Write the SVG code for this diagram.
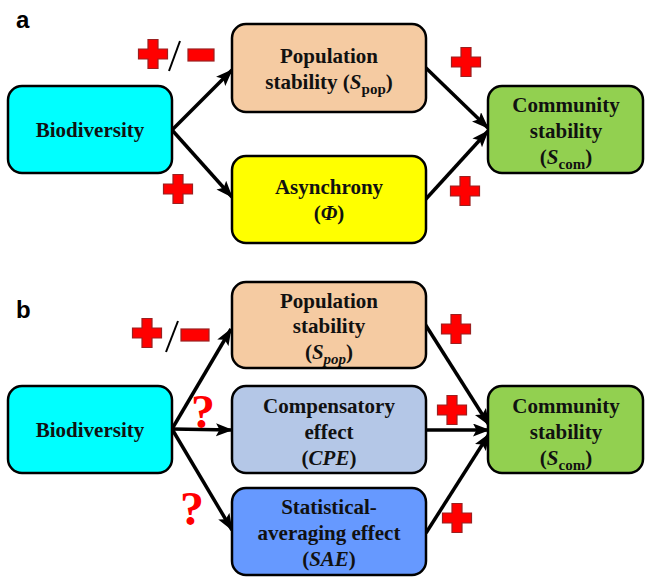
<svg xmlns="http://www.w3.org/2000/svg" width="645" height="577" viewBox="0 0 645 577">
<style>
.box{stroke:#000;stroke-width:2.5}
.t{font-family:"Liberation Serif","Times New Roman",serif;font-weight:bold;font-size:21px;fill:#111;text-anchor:middle}
.sub{font-size:15px}
.lbl{font-family:"Liberation Sans",Arial,sans-serif;font-weight:bold;font-size:24px;fill:#000}
.q{font-family:"Liberation Serif","Times New Roman",serif;font-weight:bold;font-size:48px;fill:#FF0000;text-anchor:middle}
.edge{stroke:#000;stroke-width:3.5;fill:none;marker-end:url(#ah)}
.sl{stroke:#000;stroke-width:2;fill:none}
.red{fill:#FF0000;stroke:#9B2020;stroke-width:1.2}
</style>
<defs>
<marker id="ah" markerUnits="userSpaceOnUse" markerWidth="18" markerHeight="14" refX="16" refY="6.5" orient="auto">
<path d="M0,0 L17,6.5 L0,13 L3.5,6.5 z" fill="#000"/>
</marker>
<path id="plus" class="red" d="M-5,-14.5 h10 v9.5 h9.5 v10 h-9.5 v9.5 h-10 v-9.5 h-9.5 v-10 h9.5 z"/>
</defs>

<text class="lbl" x="16" y="28">a</text>
<text class="lbl" x="16" y="318">b</text>

<g id="connectors">
<path class="edge" d="M172,130 L232,70"/>
<path class="edge" d="M172,130 L232,197"/>
<path class="edge" d="M425,67 L488,128"/>
<path class="edge" d="M425,200 L488,131"/>
<path class="edge" d="M172,429 L231,329"/>
<path class="edge" d="M172,429 L232,430"/>
<path class="edge" d="M172,429 L232,530"/>
<path class="edge" d="M425,324 L489,425"/>
<path class="edge" d="M426,430 L489,430"/>
<path class="edge" d="M426,533 L489,434"/>
</g>

<g id="signs">
<use href="#plus" x="153" y="54"/>
<path class="sl" d="M169,71 L180,41"/>
<rect class="red" x="188" y="49" width="26" height="12"/>
<use href="#plus" x="178" y="189"/>
<use href="#plus" x="466" y="62"/>
<use href="#plus" x="465" y="191"/>
<use href="#plus" x="147" y="333"/>
<path class="sl" d="M166,352 L178,321"/>
<rect class="red" x="181" y="329" width="28" height="12"/>
<use href="#plus" x="456" y="329"/>
<use href="#plus" x="452" y="410"/>
<use href="#plus" x="457" y="518"/>
<text class="q" x="203" y="428">?</text>
<text class="q" x="192" y="525">?</text>
</g>

<g id="a-biodiversity">
<rect class="box" x="8" y="86" width="164" height="87" rx="14" fill="#00FFFF"/>
<text class="t" x="90" y="137">Biodiversity</text>
</g>
<g id="a-population">
<rect class="box" x="232" y="24" width="194" height="88" rx="14" fill="#F5CBA2"/>
<text class="t" x="329" y="63">Population</text>
<text class="t" x="329" y="89">stability (<tspan font-style="italic">S</tspan><tspan class="sub" dy="5">pop</tspan><tspan dy="-5">)</tspan></text>
</g>
<g id="a-asynchrony">
<rect class="box" x="232" y="156" width="194" height="87" rx="14" fill="#FFFF00"/>
<text class="t" x="329" y="194">Asynchrony</text>
<text class="t" x="329" y="220">(<tspan font-style="italic">Φ</tspan>)</text>
</g>
<g id="a-community">
<rect class="box" x="488" y="86" width="155" height="87" rx="14" fill="#92D050"/>
<text class="t" x="566" y="112">Community</text>
<text class="t" x="566" y="138">stability</text>
<text class="t" x="566" y="164">(<tspan font-style="italic">S</tspan><tspan class="sub" dy="5">com</tspan><tspan dy="-5">)</tspan></text>
</g>

<g id="b-biodiversity">
<rect class="box" x="8" y="386" width="164" height="87" rx="14" fill="#00FFFF"/>
<text class="t" x="90" y="437">Biodiversity</text>
</g>
<g id="b-population">
<rect class="box" x="232" y="282" width="194" height="86" rx="14" fill="#F5CBA2"/>
<text class="t" x="329" y="308">Population</text>
<text class="t" x="329" y="333">stability</text>
<text class="t" x="329" y="359">(<tspan font-style="italic">S</tspan><tspan class="sub" font-style="italic" dy="5">pop</tspan><tspan dy="-5">)</tspan></text>
</g>
<g id="b-compensatory">
<rect class="box" x="232" y="386" width="194" height="87" rx="14" fill="#B4C7E7"/>
<text class="t" x="329" y="413">Compensatory</text>
<text class="t" x="329" y="439">effect</text>
<text class="t" x="329" y="465">(<tspan font-style="italic">CPE</tspan>)</text>
</g>
<g id="b-sae">
<rect class="box" x="232" y="488" width="194" height="87" rx="14" fill="#6699FF"/>
<text class="t" x="329" y="514">Statistical-</text>
<text class="t" x="329" y="540">averaging effect</text>
<text class="t" x="329" y="566">(<tspan font-style="italic">SAE</tspan>)</text>
</g>
<g id="b-community">
<rect class="box" x="488" y="386" width="155" height="87" rx="14" fill="#92D050"/>
<text class="t" x="566" y="413">Community</text>
<text class="t" x="566" y="439">stability</text>
<text class="t" x="566" y="465">(<tspan font-style="italic">S</tspan><tspan class="sub" dy="5">com</tspan><tspan dy="-5">)</tspan></text>
</g>
</svg>
